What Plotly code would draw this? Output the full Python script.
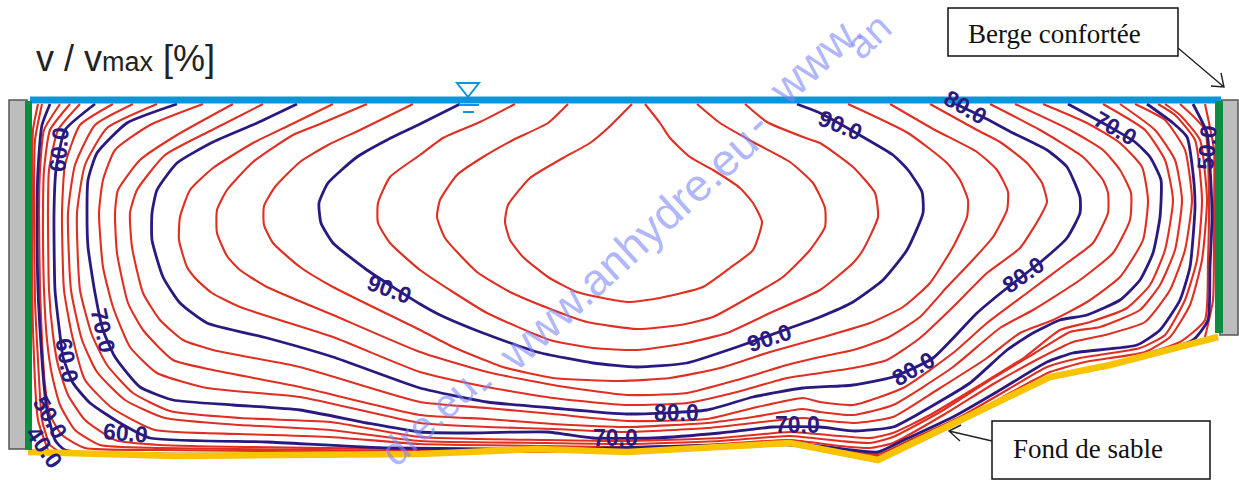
import plotly.graph_objects as go

# Contours of v/vmax [%] (x across the section, y depth, same scale as the image)
c_97_5 = [(632,104),(608,128),(590,143),(563,158),(530,178),(508,205),(505,222),(510,240),(523,257),(548,277),(577,292),(627,302),(660,298),(703,287),(730,268),(753,250),(762,222),(753,203),(740,188),(713,170),(690,157),(670,138),(660,123),(645,104)]
c_95 = [(568,104),(548,123),(513,140),(483,157),(457,175),(440,200),(437,217),(445,238),(477,272),(510,292),(553,310),(587,322),(637,329),(680,325),(713,317),(753,295),(783,277),(810,250),(825,227),(825,208),(813,183),(790,162),(753,142),(720,123),(697,104)]
c_92_5 = [(515,104),(480,122),(443,138),(420,155),(390,177),(378,203),(378,223),(390,243),(420,270),(453,292),(487,313),(550,340),(593,348),(637,350),(687,343),(727,333),(770,313),(820,290),(853,263),(863,250),(878,217),(875,193),(853,167),(820,143),(803,137),(767,122),(745,104)]
c_90 = [(460,104),(420,124),(387,140),(357,157),(328,183),(319,203),(321,223),(333,243),(367,270),(420,304),(440,315),(483,333),(537,352),(593,363),(637,367),(687,363),(737,347),(790,328),(820,317),(853,302),(883,280),(907,250),(923,213),(922,192),(908,170),(893,155),(863,137),(820,113),(797,104)]
c_87_5 = [(413,104),(360,130),(328,145),(300,162),(275,187),(264,206),(264,225),(273,243),(300,267),(333,287),(420,330),(453,347),(503,367),(553,378),(620,381),(670,378),(720,368),(770,352),(820,338),(870,323),(903,307),(930,283),(953,247),(967,217),(968,200),(960,180),(947,163),(908,133),(848,104)]
c_85 = [(367,104),(320,124),(293,135),(253,162),(227,190),(217,210),(217,233),(227,256),(240,270),(267,287),(333,315),(420,352),(487,372),(553,385),(627,395),(687,393),(737,380),(787,365),(820,357),(853,350),(887,338),(920,317),(947,287),(970,263),(993,237),(1007,210),(1008,192),(997,170),(977,152),(935,130),(890,104)]
c_82_5 = [(333,104),(290,125),(253,143),(213,168),(190,190),(180,217),(179,240),(187,267),(197,280),(212,293),(240,307),(333,337),(420,372),(487,387),(553,398),(627,405),(687,403),(737,392),(787,378),(820,373),(853,368),(887,360),(920,338),(953,307),(987,273),(1020,248),(1040,217),(1047,202),(1042,183),(1027,163),(1000,142),(977,130),(930,104)]
c_80 = [(297,104),(257,123),(213,142),(177,163),(157,190),(152,213),(152,240),(163,277),(180,303),(207,323),(267,338),(333,357),(420,388),(487,402),(553,408),(627,414),(707,410),(753,397),(803,388),(840,386),(853,385),(893,377),(933,358),(977,313),(1002,292),(1043,260),(1067,238),(1080,213),(1080,197),(1067,167),(1047,150),(1013,133),(983,117),(943,98)]
c_77_5 = [(263,104),(212,130),(165,155),(137,190),(130,213),(132,247),(143,293),(160,320),(183,340),(213,350),(300,367),(420,402),(487,408),(553,414),(627,421),(707,419),(753,408),(803,398),(820,402),(853,405),(903,388),(953,353),(987,323),(1027,293),(1067,263),(1093,243),(1108,213),(1108,193),(1103,180),(1083,157),(1040,130),(990,104)]
c_75 = [(233,104),(177,135),(140,160),(118,190),(115,213),(117,253),(128,303),(143,330),(173,360),(213,370),(300,387),(420,415),(487,419),(553,424),(627,427),(707,423),(753,417),(803,409),(820,412),(853,415),(893,405),(953,367),(1000,328),(1033,310),(1080,280),(1113,253),(1130,220),(1131,193),(1120,170),(1103,150),(1070,130),(1015,104)]
c_72_5 = [(203,104),(150,125),(115,150),(103,180),(99,213),(103,267),(113,307),(130,347),(157,373),(207,388),(300,397),(420,423),(487,427),(553,429),(627,432),(707,428),(753,423),(803,418),(820,420),(855,423),(893,417),(937,390),(987,358),(1020,333),(1053,320),(1087,302),(1120,277),(1143,240),(1148,200),(1142,167),(1120,143),(1087,123),(1043,104)]
c_70 = [(177,104),(127,123),(97,153),(88,180),(87,213),(88,247),(95,293),(103,330),(115,357),(140,387),(173,400),(233,405),(300,410),(367,423),(420,432),(463,433),(547,432),(593,438),(653,438),(720,433),(773,427),(820,427),(855,431),(893,427),(920,413),(970,383),(1007,350),(1033,333),(1060,320),(1087,315),(1120,300),(1140,280),(1153,253),(1160,217),(1161,180),(1150,157),(1135,142),(1110,127),(1068,104)]
c_67_5 = [(157,104),(107,128),(85,165),(77,213),(80,290),(92,335),(107,365),(133,393),(170,411),(240,418),(330,422),(420,437),(547,440),(627,441),(720,438),(790,432),(840,436),(870,438),(893,433),(930,415),(980,385),(1025,357),(1060,330),(1090,322),(1127,308),(1150,285),(1165,250),(1173,200),(1165,160),(1145,130),(1103,104)]
c_65 = [(133,104),(95,125),(75,165),(68,213),(71,290),(82,340),(97,372),(125,400),(165,418),(240,425),(330,430),(420,441),(547,443),(627,444),(720,441),(790,436),(840,441),(870,443),(893,437),(940,412),(990,380),(1035,353),(1070,332),(1100,327),(1140,310),(1160,285),(1175,250),(1182,200),(1175,160),(1155,130),(1120,104)]
c_62_5 = [(113,104),(80,125),(65,165),(62,213),(64,290),(72,335),(85,380),(112,408),(155,430),(240,434),(330,437),(420,444),(547,446),(627,447),(720,444),(790,440),(840,446),(870,448),(893,443),(945,414),(995,383),(1040,358),(1073,342),(1105,335),(1145,322),(1170,290),(1185,250),(1192,200),(1185,150),(1165,120),(1135,104)]
c_60 = [(95,104),(65,130),(56,170),(54,213),(55,290),(60,335),(63,357),(73,383),(90,403),(120,423),(150,438),(267,442),(390,448),(627,449),(790,443),(860,451),(878,452),(904,440),(953,417),(1000,390),(1047,362),(1073,353),(1137,345),(1160,330),(1180,300),(1190,267),(1195,207),(1193,173),(1187,137),(1173,123),(1147,104)]
c_57_5 = [(80,104),(58,130),(49,170),(48,213),(49,290),(53,335),(58,365),(68,395),(85,420),(115,440),(160,445),(420,449),(640,450),(790,444),(878,454),(910,440),(960,417),(1007,390),(1047,367),(1080,358),(1140,348),(1165,335),(1185,300),(1197,260),(1202,200),(1195,140),(1175,115),(1158,104)]
c_55 = [(70,104),(50,130),(44,170),(43,213),(44,290),(47,340),(52,375),(60,405),(75,430),(100,445),(160,448),(420,451),(640,451),(790,445),(878,456),(915,441),(965,419),(1010,393),(1050,372),(1085,362),(1145,352),(1170,337),(1190,305),(1202,260),(1207,200),(1200,140),(1180,115),(1165,104)]
c_52_5 = [(60,104),(44,130),(40,170),(39,213),(40,290),(42,340),(45,385),(50,415),(62,435),(85,448),(160,450),(420,452),(640,451),(790,445),(878,457),(920,441),(1050,376),(1110,364),(1180,342),(1205,320),(1208,260),(1209,200),(1205,130),(1180,104)]
c_50 = [(50,104),(42,125),(38,170),(37,213),(38,290),(41,345),(44,385),(47,410),(55,440),(65,450),(420,453),(790,445),(878,458),(1050,378),(1110,366),(1193,340),(1208,320),(1210,267),(1212,217),(1210,167),(1207,133),(1193,104)]
c_47_5 = [(42,104),(35,140),(34,213),(35,300),(38,360),(42,420),(50,445),(60,452)]
c_45 = [(38,104),(33,130),(32,213),(33,330),(38,420),(48,450)]
c_47_5_r = [(1205,104),(1214,150),(1214,213),(1213,300),(1205,337)]

red_levels = [c_97_5, c_95, c_92_5, c_87_5, c_85, c_82_5, c_77_5, c_75, c_72_5, c_67_5, c_65, c_62_5, c_57_5, c_55, c_52_5, c_47_5, c_45, c_47_5_r]
dark_levels = [c_90, c_80, c_70, c_60, c_50]

water_surface = [(30,100),(1221,100)]
sand_bed = [(28,452),(177,456),(420,454),(537,449),(627,452),(790,443),(878,460),(1050,377),(1110,365),(1218,337)]

label_texts = ["90.0","90.0","90.0","80.0","70.0","80.0","80.0","80.0","70.0","70.0","60.0","50.0","40.0","70.0","60.0","60.0","50.0"]
label_x = [389,769,840,965,1115,1023,913,676,615,797,125,50,44,103,67,59,1207]
label_y = [289,338,125,107,128,275,369,413,438,425,433,417,447,330,360,150,148]
label_angle = [20,-18,22,30,30,-35,-30,0,0,0,5,60,55,78,80,-85,-85]

watermark_texts = ["dre.eu", "-", "www.anhydre.eu", "-", "www.", "an"]
watermark_x = [428, 484, 628, 755, 815, 868]
watermark_y = [420, 384, 248, 123, 59, 36]
watermark_sizes = [40, 45, 45, 45, 45, 40]

RED, DARK, BLUE, GREEN, GRAY, YELLOW = "#DF2F22", "#2A1A80", "#0A95DC", "#0B8E3E", "#BDBDBD", "#F9C300"

fig = go.Figure()
def line(pts, color, width, smooth=True):
    ln = dict(color=color, width=width)
    if smooth:
        ln.update(shape="spline", smoothing=0.5)
    fig.add_trace(go.Scatter(x=[p[0] for p in pts], y=[p[1] for p in pts], mode="lines",
                             line=ln, hoverinfo="skip", showlegend=False))
for c in red_levels:
    line(c, RED, 2.1)
for c in dark_levels:
    line(c, DARK, 2.8)
line(sand_bed, YELLOW, 6.5, smooth=False)
line(water_surface, BLUE, 7, smooth=False)

shapes = [
    dict(type="rect", x0=9, x1=27, y0=100, y1=449, fillcolor=GRAY, line=dict(color="#555", width=1.5), layer="below"),
    dict(type="rect", x0=1220, x1=1238, y0=100, y1=335, fillcolor=GRAY, line=dict(color="#555", width=1.5), layer="below"),
    dict(type="rect", x0=25, x1=32, y0=101, y1=450, fillcolor=GREEN, line=dict(width=0), layer="above"),
    dict(type="rect", x0=1215, x1=1223, y0=101, y1=333, fillcolor=GREEN, line=dict(width=0), layer="above"),
    dict(type="rect", x0=948, x1=1178, y0=8, y1=56, fillcolor="white", line=dict(color="#111", width=1.5), layer="above"),
    dict(type="rect", x0=992, x1=1210, y0=421, y1=479, fillcolor="white", line=dict(color="#111", width=1.5), layer="above"),
    dict(type="path", path="M1178,48 L1224,87 M1211,86 L1224,87 L1221,73", line=dict(color="#222", width=1.4), layer="above"),
    dict(type="path", path="M992,441 L949,431 M960,441 L949,431 L961,425", line=dict(color="#222", width=1.4), layer="above"),
    dict(type="path", path="M457,83 L479,83 L468,97 Z", line=dict(color=BLUE, width=2), layer="above"),
    dict(type="line", x0=459, x1=479, y0=105, y1=105, line=dict(color=BLUE, width=2), layer="above"),
    dict(type="line", x0=463, x1=474, y0=112, y1=112, line=dict(color=BLUE, width=2), layer="above"),
]

ann = []
for t, x, y, s in zip(watermark_texts, watermark_x, watermark_y, watermark_sizes):
    ann.append(dict(x=x, y=y, text=t, textangle=-42.7, showarrow=False,
                    font=dict(family="Liberation Sans", size=s, color="rgba(125,135,250,0.62)")))
for t, x, y, a in zip(label_texts, label_x, label_y, label_angle):
    ann.append(dict(x=x, y=y, text=t, textangle=a, showarrow=False,
                    font=dict(family="Liberation Sans", size=23, color=DARK, weight=700)))
ann.append(dict(x=34, y=58, xanchor="left", yanchor="middle", showarrow=False,
                text='v / v<span style="font-size:27px">max</span> [%]',
                font=dict(family="Liberation Sans", size=36, color="#222")))
ann.append(dict(x=966, y=34, xanchor="left", yanchor="middle", showarrow=False, text="Berge confortée",
                font=dict(family="Liberation Serif", size=27, color="#111")))
ann.append(dict(x=1011, y=449, xanchor="left", yanchor="middle", showarrow=False, text="Fond de sable",
                font=dict(family="Liberation Serif", size=27, color="#111")))

fig.update_layout(
    width=1239, height=480, margin=dict(l=0, r=0, t=0, b=0),
    paper_bgcolor="white", plot_bgcolor="white", showlegend=False,
    xaxis=dict(range=[0,1239], visible=False, fixedrange=True),
    yaxis=dict(range=[480,0], visible=False, fixedrange=True),
    shapes=shapes, annotations=ann,
)
fig.write_html("out.html", config=dict(displayModeBar=False),
               post_script="document.body.style.margin='0';document.documentElement.style.overflow='hidden';")
